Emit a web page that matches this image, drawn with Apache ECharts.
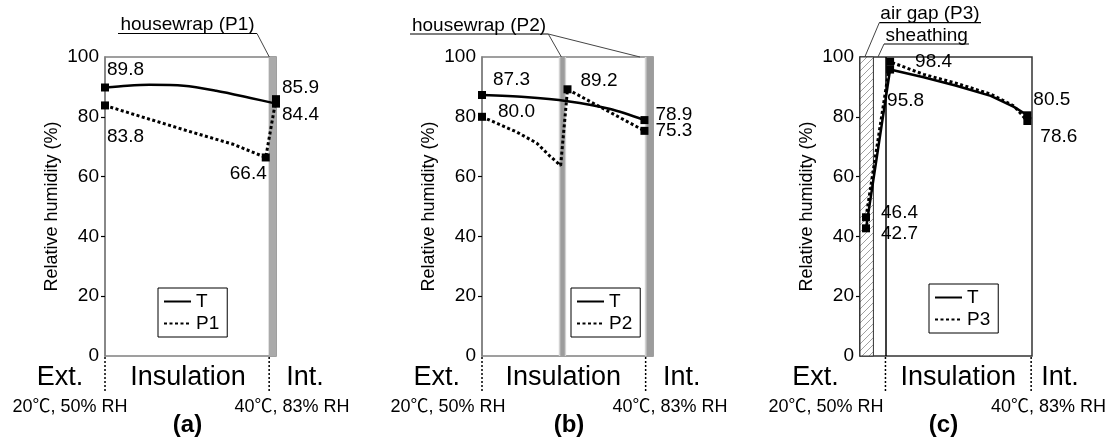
<!DOCTYPE html>
<html>
<head>
<meta charset="utf-8">
<script src="https://cdn.jsdelivr.net/npm/echarts@6.0.0/dist/echarts.min.js"></script>
<style>
  html, body { margin: 0; padding: 0; background: #fff; }
  #main { width: 1120px; height: 447px; }
</style>
</head>
<body>
<div id="main"></div>
<script>
// x = position across the wall (% of plotted width), y = relative humidity (%)
const tA_x = [0, 13, 26, 46, 65, 85, 100];
const tA_y = [89.8, 90.4, 90.7, 90.4, 88.7, 86.3, 84.4];
const p1A_x = [0, 26, 50, 75, 94, 100];
const p1A_y = [83.8, 79.2, 75.0, 70.8, 66.4, 85.9];

const tB_x = [0, 25, 50, 75, 95];
const tB_y = [87.3, 86.6, 85.2, 82.6, 78.9];
const p2B_x = [0, 20, 32, 40, 46, 50, 95];
const p2B_y = [80.0, 75.0, 71.2, 66.7, 63.7, 89.2, 75.3];

const tC_x = [3.5, 17.5, 37, 56, 76, 89.5, 97.3];
const tC_y = [42.7, 95.8, 93.2, 90.4, 87.0, 83.3, 80.5];
const p3C_x = [3.5, 17.5, 37, 56, 76, 89.5, 97.3];
const p3C_y = [46.4, 98.4, 94.2, 91.2, 87.6, 83.6, 78.6];

// which points carry a marker + value label
const tA_mark = [0, 6], p1A_mark = [0, 4, 5];
const tB_mark = [0, 4], p2B_mark = [0, 5, 6];
const tC_mark = [0, 1, 6], p3C_mark = [0, 1, 6];

const yTicks = [0, 20, 40, 60, 80, 100];
const panelNames = ['(a)', '(b)', '(c)'];
const secondNames = ['P1', 'P2', 'P3'];

const FONT = '"Liberation Sans", Arial, "Noto Sans CJK SC", sans-serif';

const panels = [
  { tx: tA_x, ty: tA_y, px: p1A_x, py: p1A_y, tm: tA_mark, pm: p1A_mark, smooth: 0.3 },
  { tx: tB_x, ty: tB_y, px: p2B_x, py: p2B_y, tm: tB_mark, pm: p2B_mark, smooth: 0.3 },
  { tx: tC_x, ty: tC_y, px: p3C_x, py: p3C_y, tm: tC_mark, pm: p3C_mark, smooth: false }
];

// layout / style
const gridDefs = [
  { left: 105, top: 57, width: 171, height: 299, border: '#808080' },
  { left: 482, top: 57, width: 171, height: 299, border: '#808080' },
  { left: 860, top: 57, width: 172, height: 299, border: '#333' }
];
const legendPos = [[158, 288], [571, 288], [929, 284]];
// label offsets [dx, dy, align] for T markers and second-series markers
const labelOff = [
  { t: [[2, -18, 'left'], [6, 11, 'left']], p: [[2, 31, 'left'], [1, 16, 'right'], [6, -11, 'left']] },
  { t: [[11, -15, 'left'], [11, -5, 'left']], p: [[16, -5, 'left'], [13, -9, 'left'], [11, 0, 'left']] },
  { t: [[15, 5, 'left'], [-3, 31, 'left'], [6, -16, 'left']], p: [[15, -4, 'left'], [25, 0, 'left'], [13, 16, 'left']] }
];

// hatch pattern for the air gap
const hatch = document.createElement('canvas');
hatch.width = 7; hatch.height = 7;
const hctx = hatch.getContext('2d');
hctx.fillStyle = '#fff'; hctx.fillRect(0, 0, 7, 7);
hctx.strokeStyle = '#a0a0a0'; hctx.lineWidth = 1;
hctx.beginPath(); hctx.moveTo(0, 7); hctx.lineTo(7, 0); hctx.stroke();

const bands = [
  [[{ xAxis: 95.7, itemStyle: { color: '#aaaaaa' } }, { xAxis: 100 }]],
  [
    [{ xAxis: 44.9, itemStyle: { color: '#d2d2d2' } }, { xAxis: 49.2 }],
    [{ xAxis: 45.8, itemStyle: { color: '#9c9c9c' } }, { xAxis: 48.4 }],
    [{ xAxis: 95.2, itemStyle: { color: '#d2d2d2' } }, { xAxis: 100 }],
    [{ xAxis: 96.2, itemStyle: { color: '#9c9c9c' } }, { xAxis: 100 }]
  ],
  [[{ xAxis: 0, itemStyle: { color: { image: hatch, repeat: 'repeat' }, borderColor: '#333', borderWidth: 1 } }, { xAxis: 7.8 }]]
];

const grid = [], xAxis = [], yAxis = [], legend = [], series = [];

panels.forEach((p, i) => {
  const g = gridDefs[i];
  grid.push({ left: g.left, top: g.top, width: g.width, height: g.height, show: true,
    borderColor: g.border, borderWidth: 1.5, backgroundColor: 'transparent' });
  xAxis.push({ gridIndex: i, type: 'value', min: 0, max: 100, show: false });
  yAxis.push({
    gridIndex: i, type: 'value', min: 0, max: 100, interval: 20,
    name: 'Relative humidity (%)', nameLocation: 'middle', nameGap: 44,
    nameTextStyle: { fontSize: 18, color: '#000', fontFamily: FONT },
    axisLine: { show: true, lineStyle: { color: g.border, width: 1.5 } },
    axisTick: { show: true, customValues: [20, 40, 60, 80], length: 4, lineStyle: { color: '#000', width: 1.2 } },
    axisLabel: { fontSize: 19, color: '#000', fontFamily: FONT, margin: 6,
      customValues: yTicks },
    splitLine: { show: false }
  });
  legend.push({
    left: legendPos[i][0], top: legendPos[i][1], orient: 'vertical',
    data: ['T', secondNames[i]], selectedMode: false,
    itemWidth: 27, itemHeight: 12, itemGap: 3, padding: [4, 8, 4, 5],
    borderColor: '#000', borderWidth: 1, backgroundColor: '#fff',
    itemStyle: { opacity: 0 },
    textStyle: { fontSize: 19, color: '#000', fontFamily: FONT }
  });

  const tData = p.tx.map((x, k) => [x, p.ty[k]]);
  const pData = p.px.map((x, k) => [x, p.py[k]]);

  series.push({
    name: 'T', type: 'line', xAxisIndex: i, yAxisIndex: i, data: tData,
    symbol: 'none', smooth: p.smooth, clip: false, z: 3,
    lineStyle: { color: '#000', width: 2.5 }, itemStyle: { color: '#000' },
    markArea: { silent: true, data: bands[i] },
    markLine: i === 2 ? { silent: true, symbol: 'none', label: { show: false },
      lineStyle: { color: '#000', width: 1.5, type: 'solid' }, data: [{ xAxis: 15 }] } : undefined
  });
  series.push({
    name: secondNames[i], type: 'line', xAxisIndex: i, yAxisIndex: i, data: pData,
    symbol: 'none', clip: false, z: 3,
    lineStyle: { color: '#000', width: 3, type: [3, 2.5] }, itemStyle: { color: '#000' }
  });

  const marks = [];
  p.tm.forEach((k, j) => {
    const o = labelOff[i].t[j];
    marks.push({ value: tData[k], label: { offset: [o[0], o[1]], align: o[2] } });
  });
  p.pm.forEach((k, j) => {
    const o = labelOff[i].p[j];
    marks.push({ value: pData[k], label: { offset: [o[0], o[1]], align: o[2] } });
  });
  series.push({
    name: 'marks' + i, type: 'scatter', xAxisIndex: i, yAxisIndex: i, data: marks,
    symbol: 'rect', symbolSize: 8, clip: false, z: 5,
    itemStyle: { color: '#000', opacity: 1 },
    label: { show: true, position: 'inside', verticalAlign: 'middle', fontSize: 19,
      color: '#000', opacity: 1, fontFamily: FONT, formatter: d => d.value[1].toFixed(1) }
  });
});

// text + leader lines around the plots
const graphic = [];
function txt(x, y, s, size, bold) {
  graphic.push({ type: 'text', x: x, y: y, silent: true,
    style: { text: s, fontSize: size, fontFamily: FONT, fontWeight: bold ? 'bold' : 'normal',
      fill: '#000', align: 'center', verticalAlign: 'middle' } });
}
function ln(x1, y1, x2, y2, color, w, dash) {
  graphic.push({ type: 'line', silent: true, shape: { x1, y1, x2, y2 },
    style: { stroke: color, lineWidth: w, lineDash: dash || null } });
}

const bottomText = [
  [60, 188, 305, 70, 292, 187.5],
  [436.7, 563.3, 681.7, 448, 670, 569],
  [815.5, 958.3, 1060, 826, 1048.5, 943.5]
];
const boundaries = [[0, 96], [0, 95.7], [14.8, 99.5]];
bottomText.forEach((b, i) => {
  txt(b[0], 378, 'Ext.', 27);
  txt(b[1], 378, 'Insulation', 27);
  txt(b[2], 378, 'Int.', 27);
  txt(b[3], 407, '20℃, 50% RH', 18);
  txt(b[4], 407, '40℃, 83% RH', 18);
  txt(b[5], 425, panelNames[i], 24, true);
  const g = gridDefs[i];
  boundaries[i].forEach(pc => {
    const x = g.left + pc * g.width / 100;
    ln(x, 357, x, 393, '#000', 1.5, [2, 2]);
  });
});

txt(187.5, 25, 'housewrap (P1)', 19);
ln(118, 33.5, 257, 33.5, '#000', 1.2);
ln(257, 33.5, 269.3, 57, '#444', 1);

txt(479, 26, 'housewrap (P2)', 19);
ln(410, 34, 548.3, 34, '#000', 1.2);
ln(548.3, 34, 561.7, 57.5, '#444', 1);
ln(548.3, 34, 640, 57, '#444', 1);

txt(930, 14, 'air gap (P3)', 19);
ln(879.3, 22.7, 981, 22.7, '#000', 1.2);
ln(879.3, 22.7, 865, 56.5, '#444', 1);

txt(926.7, 36, 'sheathing', 19);
ln(884, 44, 969, 44, '#000', 1.2);
ln(884, 44, 878, 57, '#444', 1);

const chart = echarts.init(document.getElementById('main'));
chart.setOption({
  animation: false,
  backgroundColor: '#fff',
  textStyle: { fontFamily: FONT },
  grid, xAxis, yAxis, legend, series, graphic
});
</script>
</body>
</html>
